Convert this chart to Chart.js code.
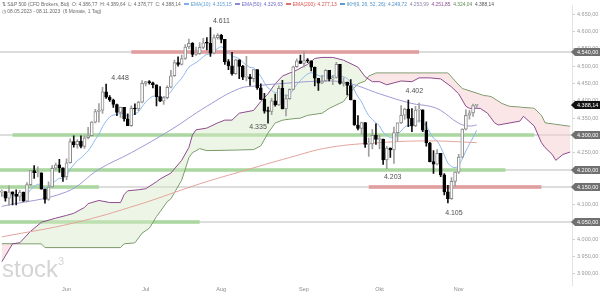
<!DOCTYPE html>
<html><head><meta charset="utf-8">
<script src="https://cdn.jsdelivr.net/npm/chart.js@4/dist/chart.umd.min.js"></script>
<style>
html,body{margin:0;padding:0;background:#fff;}
#wrap{position:relative;width:600px;height:297px;overflow:hidden;}
canvas{position:absolute;left:0;top:0;}
.lg{position:absolute;left:2px;font-family:"Liberation Sans",Arial,sans-serif;font-size:4.9px;color:#6a6a6a;white-space:nowrap;line-height:7px;}
.lg .m{display:inline-block;width:5px;height:1.5px;vertical-align:middle;margin:0 2px 0 3px;}
</style></head><body>
<div id="wrap"><canvas id="c" width="600" height="297"></canvas>
<div class="lg" style="top:0.5px">⇅ S&amp;P 500 (CFD Brokers, Bid)&nbsp; O: 4.386,77&nbsp; H: 4.389,64&nbsp; L: 4.378,77&nbsp; C: 4.388,14<span class="m" style="background:#7fb0e6"></span><span style="color:#5b9bd5">EMA(10): 4.315,15</span><span class="m" style="background:#8c8ad0"></span><span style="color:#6f6cc4">EMA(50): 4.329,63</span><span class="m" style="background:#e07070"></span><span style="color:#d9534f">EMA(200): 4.277,13</span><span class="m" style="background:#5a9bd0"></span><span style="color:#4a90c8">IKH(9, 26, 52, 26): 4.249,72</span>&nbsp; <span style="color:#8a7fa8">4.253,99</span>&nbsp; <span style="color:#8e4a8e">4.251,85</span>&nbsp; <span style="color:#5e8a50">4.324,04</span>&nbsp; <span style="color:#555">4.388,14</span></div>
<div class="lg" style="top:7.5px">◷ 08.05.2023 - 08.11.2023&nbsp; (6 Monate, 1 Tag)</div>
</div>
<script>
// ---- candles (CFD daily bars, 08.05.2023 - 08.11.2023) ----
const open = [4136,4138,4119,4137,4130,4124,4136,4110,4158,4198,
4192,4192,4145,4115,4151,4205,4215,4206,4180,4221,
4282,4273,4283,4268,4293,4299,4338,4369,4373,4426,
4410,4402,4389,4366,4381,4348,4328,4378,4376,4396,
4450,4455,4452,4446,4412,4399,4409,4439,4472,4510,
4505,4522,4555,4566,4534,4536,4554,4567,4566,4537,
4582,4589,4577,4513,4501,4478,4518,4499,4468,4469,
4464,4490,4437,4404,4371,4369,4400,4388,4436,4376,
4406,4433,4498,4515,4508,4516,4515,4497,4465,4451,
4457,4488,4462,4467,4505,4450,4454,4444,4402,4330,
4320,4337,4274,4275,4300,4288,4289,4229,4263,4258,
4308,4336,4358,4376,4349,4327,4373,4374,4315,4278,
4224,4217,4248,4186,4137,4117,4167,4194,4237,4318,
4358,4365,4386.77];
const high = [4143,4138,4154,4137,4143,4141,4136,4164,4198,4213,
4209,4192,4145,4166,4213,4220,4231,4206,4232,4290,
4299,4288,4299,4299,4323,4340,4375,4392,4439,4448,
4415,4405,4390,4382,4381,4362,4385,4391,4398,4458,
4456,4458,4454,4446,4441,4412,4443,4488,4517,4527,
4532,4562,4578,4568,4555,4568,4580,4582,4611,4590,
4594,4592,4577,4519,4540,4520,4518,4502,4528,4476,
4490,4490,4449,4421,4382,4407,4419,4443,4459,4418,
4434,4500,4521,4532,4542,4522,4515,4497,4465,4473,
4490,4488,4473,4511,4505,4466,4454,4461,4402,4357,
4338,4337,4292,4317,4333,4300,4289,4268,4264,4324,
4336,4386,4378,4402,4377,4384,4393,4374,4339,4280,
4256,4259,4248,4190,4156,4178,4195,4245,4319,4374,
4372,4390,4389.64];
const low = [4124,4110,4098,4099,4099,4111,4109,4108,4154,4176,
4180,4145,4104,4112,4150,4200,4193,4167,4172,4220,
4266,4263,4264,4262,4290,4298,4336,4338,4363,4407,
4398,4381,4357,4352,4341,4328,4326,4360,4371,4394,
4443,4448,4437,4385,4397,4389,4405,4437,4470,4500,
4503,4519,4550,4527,4531,4534,4550,4547,4528,4535,
4578,4567,4505,4490,4474,4476,4464,4461,4457,4444,
4454,4433,4403,4364,4335,4360,4384,4386,4376,4356,
4404,4431,4496,4507,4497,4510,4486,4443,4430,4449,
4455,4457,4446,4465,4448,4442,4417,4402,4329,4316,
4303,4265,4239,4261,4274,4261,4216,4203,4236,4219,
4284,4334,4346,4325,4311,4325,4338,4311,4269,4223,
4190,4215,4181,4128,4105,4115,4153,4190,4235,4316,
4347,4355,4378.77];
const close = [4138,4119,4137,4130,4124,4136,4110,4158,4198,4192,
4192,4145,4115,4151,4205,4215,4206,4180,4221,4282,
4273,4283,4268,4293,4299,4338,4369,4373,4426,4410,
4402,4389,4366,4381,4348,4328,4378,4376,4396,4450,
4455,4452,4446,4412,4399,4409,4439,4472,4510,4505,
4522,4555,4566,4534,4536,4554,4567,4566,4537,4582,
4589,4577,4513,4501,4478,4518,4499,4468,4469,4464,
4490,4437,4404,4370,4369,4400,4388,4436,4376,4406,
4433,4498,4515,4508,4516,4515,4497,4465,4451,4457,
4488,4462,4467,4505,4450,4454,4444,4402,4330,4320,
4337,4274,4275,4300,4288,4289,4229,4263,4258,4308,
4336,4358,4376,4349,4327,4373,4374,4315,4278,4224,
4217,4248,4186,4137,4117,4167,4194,4237,4318,4358,
4365,4386,4388.14];
// ---- indicators ----
const ema10 = [4127,4126,4128,4128,4127,4129,4125,4131,4143,4152,
4159,4157,4149,4150,4160,4169,4176,4176,4184,4202,
4215,4227,4235,4245,4255,4270,4288,4303,4325,4341,
4353,4359,4360,4364,4361,4355,4359,4362,4368,4383,
4396,4406,4413,4413,4410,4410,4415,4426,4441,4453,
4465,4481,4497,4504,4510,4518,4527,4534,4534,4543,
4551,4556,4548,4540,4528,4526,4521,4511,4503,4496,
4495,4484,4470,4452,4437,4430,4423,4425,4416,4414,
4418,4432,4447,4458,4469,4477,4481,4478,4473,4470,
4473,4471,4470,4477,4472,4469,4464,4453,4431,4411,
4397,4375,4357,4346,4336,4327,4309,4301,4293,4296,
4303,4313,4324,4329,4328,4337,4343,4338,4327,4308,
4292,4284,4266,4243,4220,4210,4207,4213,4232,4255,
4275,4294,4315];
const ema50 = [[0,4095],[18,4137],[27,4202],[36,4250],[47,4316],[57,4384],[66,4435],[71,4443],[77,4449],[91,4457],[97,4449],[105,4420],[114,4392],[119,4384],[122,4372],[127,4335],[130,4327],[132,4330]];
const ema200 = [[0,4007],[20,4047],[38,4100],[55,4160],[66,4194],[80,4236],[91,4265],[105,4279],[119,4284],[132,4279]];
const spanA = [[0,3935],[3,3987],[5,3990],[8,4023],[11,4049],[15,4061],[18,4069],[20,4075],[23,4092],[24,4103],[27,4112],[30,4106],[33,4106],[34,4129],[35,4140],[38,4143],[40,4146],[43,4166],[44,4174],[47,4191],[50,4228],[52,4265],[53,4301],[54,4316],[57,4321],[60,4336],[62,4344],[64,4344],[66,4364],[70,4372],[72,4398],[74,4420],[76,4449],[78,4471],[80,4480],[81,4483],[85,4505],[87,4522],[89,4525],[92,4525],[95,4517],[99,4497],[101,4469],[103,4455],[105,4455],[107,4446],[111,4457],[114,4455],[116,4466],[119,4466],[122,4463],[125,4440],[127,4420],[129,4384],[130,4378],[133,4378],[135,4364],[137,4336],[138,4330],[144,4341],[145,4355],[148,4327],[150,4279],[151,4265],[153,4245],[154,4228],[156,4245],[158,4252]];
const spanB = [[0,3987],[11,3987],[12,3976],[33,3976],[34,3987],[37,3990],[39,4018],[41,4032],[43,4066],[44,4080],[46,4109],[47,4117],[50,4171],[52,4236],[53,4250],[55,4262],[57,4256],[70,4259],[72,4270],[74,4307],[76,4336],[78,4344],[80,4347],[83,4350],[85,4358],[89,4364],[91,4378],[95,4398],[97,4426],[99,4449],[101,4457],[102,4471],[104,4480],[124,4480],[126,4457],[128,4435],[129,4432],[134,4415],[136,4412],[139,4392],[141,4384],[148,4378],[150,4358],[151,4336],[158,4326]];
const futureBars = 26;
// ---- horizontal levels / zones ----
const levels = [4540, 4300, 4200, 4150, 4050];
const zoneLevel = [4540, 4300, 4200, 4150, 4150, 4050];
const zoneFrom  = [36, 3, -0.5, -0.5, 102, -0.5];
const zoneTo    = [116, 148, 140, 27, 150, 55];
const zoneKind  = ['r','g','g','g','r','g'];
const lastPrice = 4388.14;
// ---- extreme labels ----
const annoIdx = [29, 58, 74, 113, 107, 124];
const annoVal = [4448, 4611, 4335, 4402, 4203, 4105];
const annoText = ['4.448','4.611','4.335','4.402','4.203','4.105'];
const monthNames = ['Jan','Feb','Mär','Apr','Mai','Jun','Jul','Aug','Sep','Okt','Nov','Dez'];

// trading dates (weekdays) from 08.05.2023
const dates = [];
{ let t = Date.UTC(2023,4,8); while (dates.length < close.length) { const d = new Date(t); const w = d.getUTCDay(); if (w>0 && w<6) dates.push(d); t += 86400000; } }
const monthTicks = [];
for (let i=1;i<dates.length;i++) if (dates[i].getUTCMonth()!==dates[i-1].getUTCMonth()) monthTicks.push(i);

// style / positions (not data)
const annoDx = [14, 11, -10, 6, 6, 6];
const annoDy = [-6, -7, 4, -9, 8, 10];
const FONT = '"Liberation Sans", Arial, sans-serif';
const fmt = v => { const s = Number(v).toFixed(2).split('.'); return s[0].replace(/\B(?=(\d{3})+(?!\d))/g,'.') + ',' + s[1]; };
const pts = arr => arr.map(p => ({x:p[0], y:p[1]}));
const up = i => close[i] >= open[i];

const bgPlugin = {
  id:'bg',
  beforeDatasetsDraw(chart){
    const {ctx, chartArea:a, scales:{x,y}} = chart;
    ctx.save();
    ctx.fillStyle = '#d4d4d4';
    ctx.font = '24px ' + FONT;
    ctx.textBaseline = 'alphabetic';
    ctx.fillText('stock', 2, 277);
    ctx.font = '11px ' + FONT;
    ctx.fillText('3', 58, 265);
    levels.forEach(v => { const py = Math.round(y.getPixelForValue(v)); ctx.fillStyle = '#dddddd'; ctx.fillRect(a.left, py-1, a.right-a.left, 2); });
    zoneLevel.forEach((v,k) => {
      const py = y.getPixelForValue(v);
      const x0 = Math.max(a.left, x.getPixelForValue(zoneFrom[k]));
      const x1 = Math.min(a.right, x.getPixelForValue(zoneTo[k]));
      ctx.fillStyle = zoneKind[k]==='g' ? 'rgba(140,208,125,0.6)' : 'rgba(220,120,120,0.6)';
      ctx.fillRect(x0, Math.round(py)-2, x1-x0, 4);
    });
    ctx.restore();
  },
  afterDraw(chart){
    const {ctx, chartArea:a, scales:{x,y}} = chart;
    ctx.save();
    ctx.font = '7px ' + FONT;
    ctx.fillStyle = '#505050';
    ctx.textAlign = 'center'; ctx.textBaseline = 'middle';
    annoIdx.forEach((i,k) => ctx.fillText(annoText[k], x.getPixelForValue(i)+annoDx[k], y.getPixelForValue(annoVal[k])+annoDy[k]));
    const tag = (v, col) => {
      const py = Math.round(y.getPixelForValue(v));
      ctx.fillStyle = col;
      ctx.beginPath();
      ctx.moveTo(a.right-1, py); ctx.lineTo(a.right+3, py-4); ctx.lineTo(600, py-4); ctx.lineTo(600, py+4); ctx.lineTo(a.right+3, py+4); ctx.closePath(); ctx.fill();
      ctx.fillStyle = '#fff'; ctx.font = '5.5px ' + FONT; ctx.textAlign = 'left'; ctx.textBaseline = 'middle';
      ctx.fillText(fmt(v), a.right+5, py+0.5);
    };
    levels.forEach(v => tag(v, '#707070'));
    tag(lastPrice, '#111111');
    ctx.restore();
  }
};

new Chart(document.getElementById('c'), {
  type:'bar',
  data:{ datasets:[
    { type:'line', data:pts(spanA), borderColor:'#8e4a8e', borderWidth:1, pointRadius:0, tension:0, order:5,
      fill:{target:'+1', above:'rgba(214,236,200,0.45)', below:'rgba(245,205,205,0.5)'} },
    { type:'line', data:pts(spanB), borderColor:'#5e8a50', borderWidth:1, pointRadius:0, tension:0, order:5, fill:false },
    { type:'line', data:pts(ema200), borderColor:'#e3a49c', borderWidth:1, pointRadius:0, tension:0.4, order:3 },
    { type:'line', data:pts(ema50), borderColor:'#9d9ad4', borderWidth:1, pointRadius:0, tension:0.4, order:3 },
    { type:'line', data:ema10.map((v,i)=>({x:i,y:v})), borderColor:'#8cb8ec', borderWidth:1, pointRadius:0, tension:0.3, order:3 },
    { type:'bar', data:close.map((c,i)=>({x:i, y:[low[i],high[i]]})), backgroundColor:close.map((c,i)=>up(i)?'#a0a0a0':'#111'), barThickness:1, grouped:false, borderWidth:0, order:1 },
    { type:'bar', data:close.map((c,i)=>({x:i, y:[open[i],c]})), backgroundColor:close.map((c,i)=>up(i)?'#ffffff':'#000000'), borderColor:close.map((c,i)=>up(i)?'#8a8a8a':'#000000'), borderWidth:1, borderSkipped:false, barThickness:3, grouped:false, minBarLength:1, order:0 }
  ]},
  options:{
    responsive:false, animation:false, devicePixelRatio:1,
    layout:{padding:0},
    plugins:{legend:{display:false}, tooltip:{enabled:false}},
    scales:{
      x:{ type:'linear', min:-0.5, max:close.length-1+futureBars+0.5, offset:false,
          grid:{display:false, drawTicks:false, tickLength:0}, border:{display:false},
          afterBuildTicks:s=>{ s.ticks = monthTicks.map(v=>({value:v})); },
          afterFit:s=>{ s.height = 12; },
          ticks:{ autoSkip:false, maxRotation:0, padding:1, color:'#8a8a8a', font:{family:FONT, size:5.5},
                  callback:v=>{ const d = dates[Math.round(v)]; return d ? monthNames[d.getUTCMonth()] : ''; } } },
      y:{ type:'linear', position:'right', min:3868, max:4675.5,
          grid:{drawOnChartArea:false, drawTicks:true, tickLength:3, color:'#cccccc'},
          border:{display:true, color:'#e4e4e4'},
          afterFit:s=>{ s.width = 28; },
          ticks:{ stepSize:50, includeBounds:false, padding:2, color:'#9a9a9a', font:{family:FONT, size:5.5}, callback:v=>fmt(v) } }
    }
  },
  plugins:[bgPlugin]
});
</script>
</body></html>
